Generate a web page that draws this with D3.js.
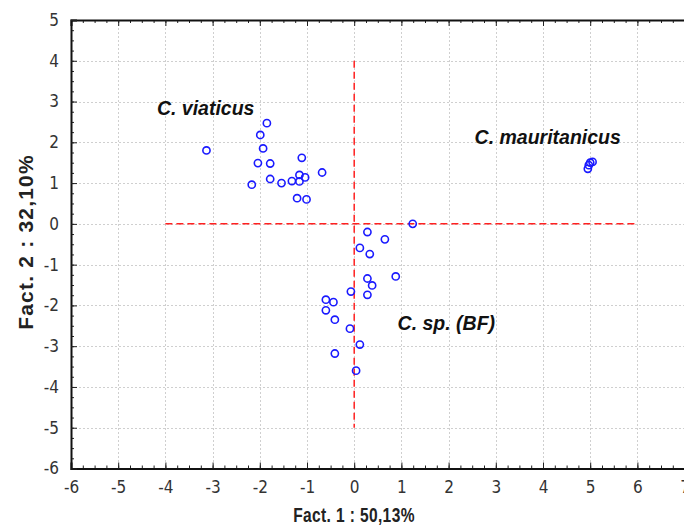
<!DOCTYPE html>
<html><head><meta charset="utf-8">
<script src="https://cdn.jsdelivr.net/npm/d3@7"></script>
<style>
html,body{margin:0;padding:0;background:#fff;}
svg{display:block;}
</style></head>
<body>
<svg id="c" width="684" height="528"></svg>
<script>
const xTicks = [-6,-5,-4,-3,-2,-1,0,1,2,3,4,5,6,7];
const yTicks = [5,4,3,2,1,0,-1,-2,-3,-4,-5,-6];
const xTitle = "Fact. 1 : 50,13%";
const yTitle = "Fact. 2 : 32,10%";

const viaticusX = [-3.13,-1.85,-1.99,-1.93,-2.04,-1.78,-1.11,-0.68,-1.78,-1.54,-2.17,-1.32,-1.16,-1.04,-1.16,-1.21,-1.01];
const viaticusY = [1.80,2.47,2.18,1.85,1.49,1.48,1.62,1.26,1.10,1.00,0.96,1.05,1.20,1.14,1.04,0.63,0.60];
const bfX = [1.24,0.28,0.65,0.12,0.33,0.28,0.88,0.38,-0.07,0.28,-0.60,-0.44,-0.60,-0.41,-0.09,0.12,-0.41,0.04];
const bfY = [0.00,-0.20,-0.38,-0.59,-0.74,-1.34,-1.29,-1.51,-1.66,-1.74,-1.86,-1.92,-2.12,-2.35,-2.57,-2.96,-3.18,-3.60];
const mauritX = [4.95,5.00,5.05,4.97];
const mauritY = [1.35,1.50,1.52,1.44];

const groupLabels = ["C. viaticus","C. mauritanicus","C. sp. (BF)"];
const groupLabelPos = [[-4.18,2.67],[2.55,1.95],[0.92,-2.61]];

const hLine = {x:[-4,6], y:0};
const vLine = {x:0, y:[4,-5]};

(function(){
const svg = d3.select("#c");
const x = d3.scaleLinear().domain([-6,7]).range([71,684.6]);
const y = d3.scaleLinear().domain([-6,5]).range([468.5,20]);
const font = "'DejaVu Sans Condensed','Liberation Sans Narrow','Arial Narrow','Liberation Sans',Arial,sans-serif";
const fmt = d => String(d);

// grid
const grid = svg.append("g").attr("stroke","#cfcfcf").attr("stroke-width",1).attr("stroke-dasharray","2,2");
grid.selectAll("line.v").data(xTicks.slice(1,-1)).join("line")
  .attr("x1",d=>Math.round(x(d))+0.5).attr("x2",d=>Math.round(x(d))+0.5).attr("y1",y(5)).attr("y2",y(-6));
grid.selectAll("line.h").data(yTicks.slice(1,-1)).join("line")
  .attr("y1",d=>Math.round(y(d))+0.5).attr("y2",d=>Math.round(y(d))+0.5).attr("x1",x(-6)).attr("x2",x(7));

// red dashed lines
const red = svg.append("g").attr("stroke","#ff2020").attr("stroke-width",1.5).attr("stroke-dasharray","7,4");
red.append("line").attr("x1",x(hLine.x[0])).attr("x2",x(hLine.x[1])).attr("y1",y(hLine.y)).attr("y2",y(hLine.y));
red.append("line").attr("x1",x(vLine.x)).attr("x2",x(vLine.x)).attr("y1",y(vLine.y[0])).attr("y2",y(vLine.y[1]));

// axes
const minorX = d3.range(-6,7.001,0.25);
const minorY = d3.range(-6,5.001,0.25);
const gB = svg.append("g").attr("transform",`translate(0,${y(-6)})`)
  .call(d3.axisBottom(x).tickValues(minorX).tickSize(-3).tickFormat(""));
gB.call(g=>g.select(".domain").remove());
svg.append("g").attr("transform",`translate(0,${y(-6)})`)
  .call(d3.axisBottom(x).tickValues(xTicks).tickSize(-6).tickPadding(12).tickFormat(fmt));
const gT = svg.append("g").attr("transform",`translate(0,${y(5)})`)
  .call(d3.axisTop(x).tickValues(minorX).tickSize(-3).tickFormat(""));
gT.call(g=>g.select(".domain").remove());
svg.append("g").attr("transform",`translate(0,${y(5)})`)
  .call(d3.axisTop(x).tickValues(xTicks).tickSize(-6).tickFormat(""));
const gL = svg.append("g").attr("transform",`translate(${x(-6)},0)`)
  .call(d3.axisLeft(y).tickValues(minorY).tickSize(-3).tickFormat(""));
gL.call(g=>g.select(".domain").remove());
svg.append("g").attr("transform",`translate(${x(-6)},0)`)
  .call(d3.axisLeft(y).tickValues(yTicks).tickSize(-6).tickPadding(12).tickFormat(fmt));

svg.selectAll(".tick line").attr("stroke","#222");
svg.selectAll(".domain").attr("stroke","#111").attr("stroke-width",2);
svg.selectAll(".tick text").attr("font-family",font).attr("font-size",17).attr("fill","#333");

// points
const pts = [];
viaticusX.forEach((v,i)=>pts.push([v,viaticusY[i]]));
bfX.forEach((v,i)=>pts.push([v,bfY[i]]));
mauritX.forEach((v,i)=>pts.push([v,mauritY[i]]));
svg.append("g").selectAll("circle").data(pts).join("circle")
  .attr("cx",d=>x(d[0])).attr("cy",d=>y(d[1])).attr("r",3.6)
  .attr("fill","none").attr("stroke","#1a1aff").attr("stroke-width",1.6);

// group labels
svg.append("g").selectAll("text").data(groupLabels).join("text")
  .attr("x",(d,i)=>x(groupLabelPos[i][0])).attr("y",(d,i)=>y(groupLabelPos[i][1]))
  .attr("font-family","'Liberation Sans',Arial,sans-serif").attr("font-weight","bold").attr("font-style","italic")
  .attr("font-size",19.5).attr("fill","#111").text(d=>d);

// axis titles
svg.append("text").attr("transform","translate(354,522) scale(0.74,1)").attr("text-anchor","middle")
  .attr("font-family","'Liberation Sans',Arial,sans-serif").attr("font-weight","bold").attr("font-size",21)
  .attr("letter-spacing",0.5).attr("fill","#222").text(xTitle);
svg.append("text").attr("transform","translate(33,242) rotate(-90)").attr("text-anchor","middle")
  .attr("font-family","'Liberation Sans',Arial,sans-serif").attr("font-weight","bold").attr("font-size",21)
  .attr("letter-spacing",1.2).attr("fill","#222").text(yTitle);
})();
</script>
</body></html>
